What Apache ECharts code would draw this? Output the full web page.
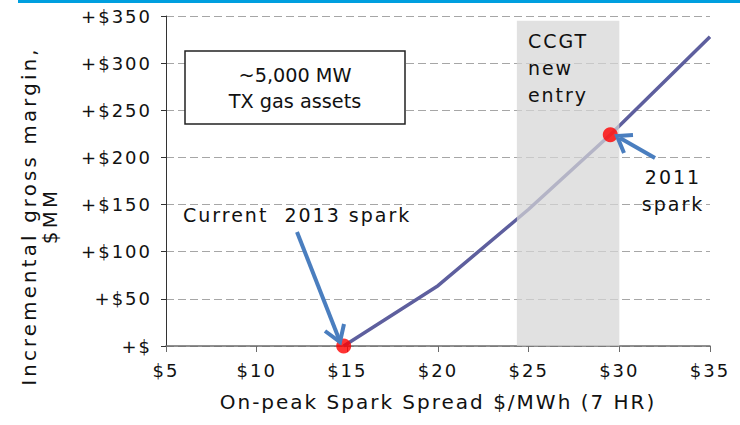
<!DOCTYPE html>
<html>
<head>
<meta charset="utf-8">
<script src="https://cdn.jsdelivr.net/npm/echarts@6.0.0/dist/echarts.min.js"></script>
<style>
  html, body { margin: 0; padding: 0; background: #fff; }
  #chart { width: 740px; height: 425px; letter-spacing: 2px; }
  /* boxed note is set without extra tracking, y title with a bit more */
  #chart text[style*="19.25px"] { letter-spacing: 0; }
  #chart text[style*="19.75px"] { letter-spacing: 3.2px; }
</style>
</head>
<body>
<div id="chart"></div>
<script>
// spark spread ($/MWh) vs incremental gross margin ($MM)
const sparkSpread = [14.8, 20, 25, 29.5, 35];
const grossMargin = [0, 64, 145, 224, 328];

// highlighted points: current 2013 spark, 2011 spark
const markerSpread = [14.8, 29.5];
const markerMargin = [0, 224];

// CCGT new entry band
const ccgtBand = [24.35, 30];
const ccgtTop = 345;

const FONT = 'DejaVu Sans';
const INK = '#111111';
const ARROW = '#4a7ebf';

const chart = echarts.init(document.getElementById('chart'), null, { renderer: 'svg' });

const arrow = (shaft, head) => [
  { type: 'polyline', z: 100, shape: { points: shaft }, style: { stroke: ARROW, lineWidth: 4, fill: null } },
  { type: 'polyline', z: 100, shape: { points: head }, style: { stroke: ARROW, lineWidth: 4, fill: null, lineJoin: 'miter' } },
];

const option = {
  backgroundColor: '#ffffff',
  animation: false,
  textStyle: { fontFamily: FONT, color: INK },
  grid: { left: 166, right: 30, top: 16, bottom: 79 },
  xAxis: {
    type: 'value',
    min: 5,
    max: 35,
    interval: 5,
    name: 'On-peak Spark Spread $/MWh (7 HR)',
    nameLocation: 'middle',
    nameGap: 46,
    nameTextStyle: { fontFamily: FONT, fontSize: 20, color: INK },
    axisLine: { lineStyle: { color: '#6b6b6b', width: 1.5 } },
    axisTick: { show: true, inside: false, length: 6, lineStyle: { color: '#6b6b6b' } },
    axisLabel: { fontFamily: FONT, fontSize: 18, color: INK, margin: 15, formatter: (v) => '$' + v },
    splitLine: { show: false },
  },
  yAxis: {
    type: 'value',
    min: 0,
    max: 350,
    interval: 50,
    axisLine: { show: true, lineStyle: { color: '#333333', width: 1 } },
    axisTick: { show: true, inside: false, length: 5, lineStyle: { color: '#333333' } },
    axisLabel: { fontFamily: FONT, fontSize: 18, color: INK, margin: 14, formatter: (v) => '+$' + (v === 0 ? '' : v) },
    splitLine: { show: true, lineStyle: { color: '#a6a6a6', width: 1, type: [8, 4] } },
  },
  series: [
    {
      type: 'line',
      data: sparkSpread.map((x, i) => [x, grossMargin[i]]),
      showSymbol: false,
      symbol: 'none',
      lineStyle: { color: '#5e5f9e', width: 3.5 },
      z: 2,
    },
    {
      type: 'line',
      data: [],
      z: 3,
      markArea: {
        silent: true,
        z: 3,
        itemStyle: { color: 'rgba(214,214,214,0.72)' },
        label: {
          show: true,
          position: [11, 7],
          formatter: 'CCGT\nnew\nentry',
          fontFamily: FONT,
          fontSize: 19,
          lineHeight: 27,
          color: INK,
          align: 'left',
          verticalAlign: 'top',
        },
        data: [[{ xAxis: ccgtBand[0], yAxis: 0 }, { xAxis: ccgtBand[1], yAxis: ccgtTop }]],
      },
    },
    {
      type: 'scatter',
      data: markerSpread.map((x, i) => [x, markerMargin[i]]),
      symbolSize: 15,
      itemStyle: { color: '#ff0000' },
      z: 5,
    },
  ],
  graphic: [
    // top rule
    { type: 'rect', z: 100, shape: { x: 18, y: 0, width: 722, height: 3 }, style: { fill: '#009fdf' } },
    // y-axis title
    {
      type: 'text', z: 100, x: 39.5, y: 216, rotation: Math.PI / 2,
      style: {
        text: 'Incremental gross margin,\n$MM',
        fontFamily: FONT, fontSize: 19.75, lineHeight: 21, fill: INK,
        align: 'center', verticalAlign: 'middle',
      },
    },
    // note box
    { type: 'rect', z: 100, shape: { x: 185, y: 51, width: 220, height: 73 }, style: { fill: '#ffffff', stroke: '#222222', lineWidth: 1.5 } },
    {
      type: 'text', z: 101, x: 295, y: 88,
      style: {
        text: '~5,000 MW\nTX gas assets',
        fontFamily: FONT, fontSize: 19.25, lineHeight: 26, fill: INK,
        align: 'center', verticalAlign: 'middle',
      },
    },
    // annotations
    {
      type: 'text', z: 100, x: 183, y: 215,
      style: { text: 'Current  2013 spark', fontFamily: FONT, fontSize: 19, fill: INK, align: 'left', verticalAlign: 'middle' },
    },
    {
      type: 'text', z: 100, x: 673, y: 190,
      style: { text: '2011\nspark', fontFamily: FONT, fontSize: 19, lineHeight: 27, fill: INK, align: 'center', verticalAlign: 'middle' },
    },
    ...arrow([[297, 232], [339, 339]], [[325, 331], [340, 342], [344, 324]]),
    ...arrow([[655, 158], [620, 138]], [[633, 135], [617, 136], [624, 153]]),
  ],
};

chart.setOption(option);
</script>
</body>
</html>
